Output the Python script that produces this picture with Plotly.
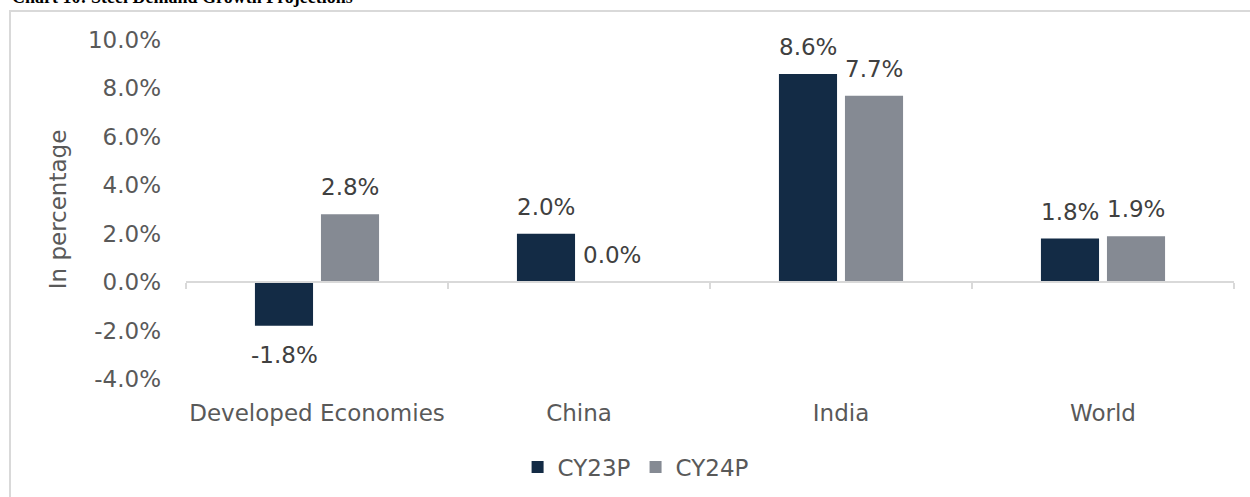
import plotly.graph_objects as go

categories = ["Developed Economies", "China", "India", "World"]
cy23p = [-1.8, 2.0, 8.6, 1.8]
cy24p = [2.8, 0.0, 7.7, 1.9]
series_names = ["CY23P", "CY24P"]
colors = ["#132b45", "#858a93"]
y_ticks = [-4, -2, 0, 2, 4, 6, 8, 10]
y_tick_labels = [f"{v:.1f}%" for v in y_ticks]

FONT = "DejaVu Sans"
FS = 23
fig = go.Figure()
for name, vals, col in zip(series_names, [cy23p, cy24p], colors):
    fig.add_trace(go.Bar(x=categories, y=vals, name=name, marker=dict(color=col, line=dict(width=0)),
                         offsetgroup=name))

# data labels
W = 1048
for i, (name, vals) in enumerate(zip(series_names, [cy23p, cy24p])):
    for j, v in enumerate(vals):
        fig.add_annotation(x=j, y=v, xref="x", yref="y", text=f"{v:.1f}%", showarrow=False,
                           xshift=-33 if i == 0 else 33,
                           yanchor="middle",
                           yshift=27 if v >= 0 else -29,
                           font=dict(family=FONT, size=FS, color="#404040"))

fig.update_layout(
    width=1250, height=497,
    margin=dict(l=186, r=16, t=40, b=118, autoexpand=False),
    paper_bgcolor="white", plot_bgcolor="white",
    bargap=0.496, bargroupgap=0.12, barmode="group",
    font=dict(family=FONT, size=FS, color="#595959"),
    showlegend=True,
    legend=dict(orientation="h", x=0.429, xanchor="center", y=30 / 497, yanchor="middle",
                yref="container",
                font=dict(family=FONT, size=FS, color="#595959"), itemwidth=30, tracegroupgap=0),
    xaxis=dict(type="category", showline=False, showgrid=False, zeroline=False, ticks="",
               automargin=False,
               ticklabelstandoff=18, tickfont=dict(family=FONT, size=FS, color="#595959")),
    xaxis2=dict(overlaying="x", anchor="free", position=4/14, range=[-0.5, 3.5],
                showline=True, linecolor="#d9d9d9", linewidth=2, ticks="outside", ticklen=6,
                tickcolor="#d9d9d9", tickwidth=2, tickvals=[-0.5, 0.5, 1.5, 2.5, 3.5],
                showticklabels=False, showgrid=False, zeroline=False, side="bottom",
                automargin=False),
    yaxis=dict(range=[-4, 10], tickvals=y_ticks, ticktext=y_tick_labels, showgrid=False,
               zeroline=False, showline=False, ticklabelstandoff=24, automargin=False,
               tickfont=dict(family=FONT, size=FS, color="#595959"),
               title=dict(text="In percentage", standoff=14,
                          font=dict(family=FONT, size=FS, color="#595959"))),
)
# dummy invisible trace to activate xaxis2
fig.add_trace(go.Scatter(x=[-0.5], y=[0], xaxis="x2", mode="markers", marker=dict(opacity=0),
                         showlegend=False, hoverinfo="skip"))

# outer frame
fig.add_shape(type="rect", xref="paper", yref="paper",
              x0=(10 - 186) / W, x1=(1270 - 186) / W, y0=(379 - 520) / 339, y1=(379 - 11) / 339,
              line=dict(color="#d9d9d9", width=2), fillcolor="rgba(0,0,0,0)", layer="below")
# title (partially cut in reference)
fig.add_annotation(text="<b>Chart 10: Steel Demand Growth Projections</b>", xref="paper", yref="paper",
                   x=(10 - 186) / W, xanchor="left", y=(379 - 9) / 339, yanchor="bottom",
                   showarrow=False, font=dict(family="Liberation Serif", size=18, color="black"))

fig.write_html("out.html", config={"displayModeBar": False},
               post_script="document.body.style.margin='0';")
